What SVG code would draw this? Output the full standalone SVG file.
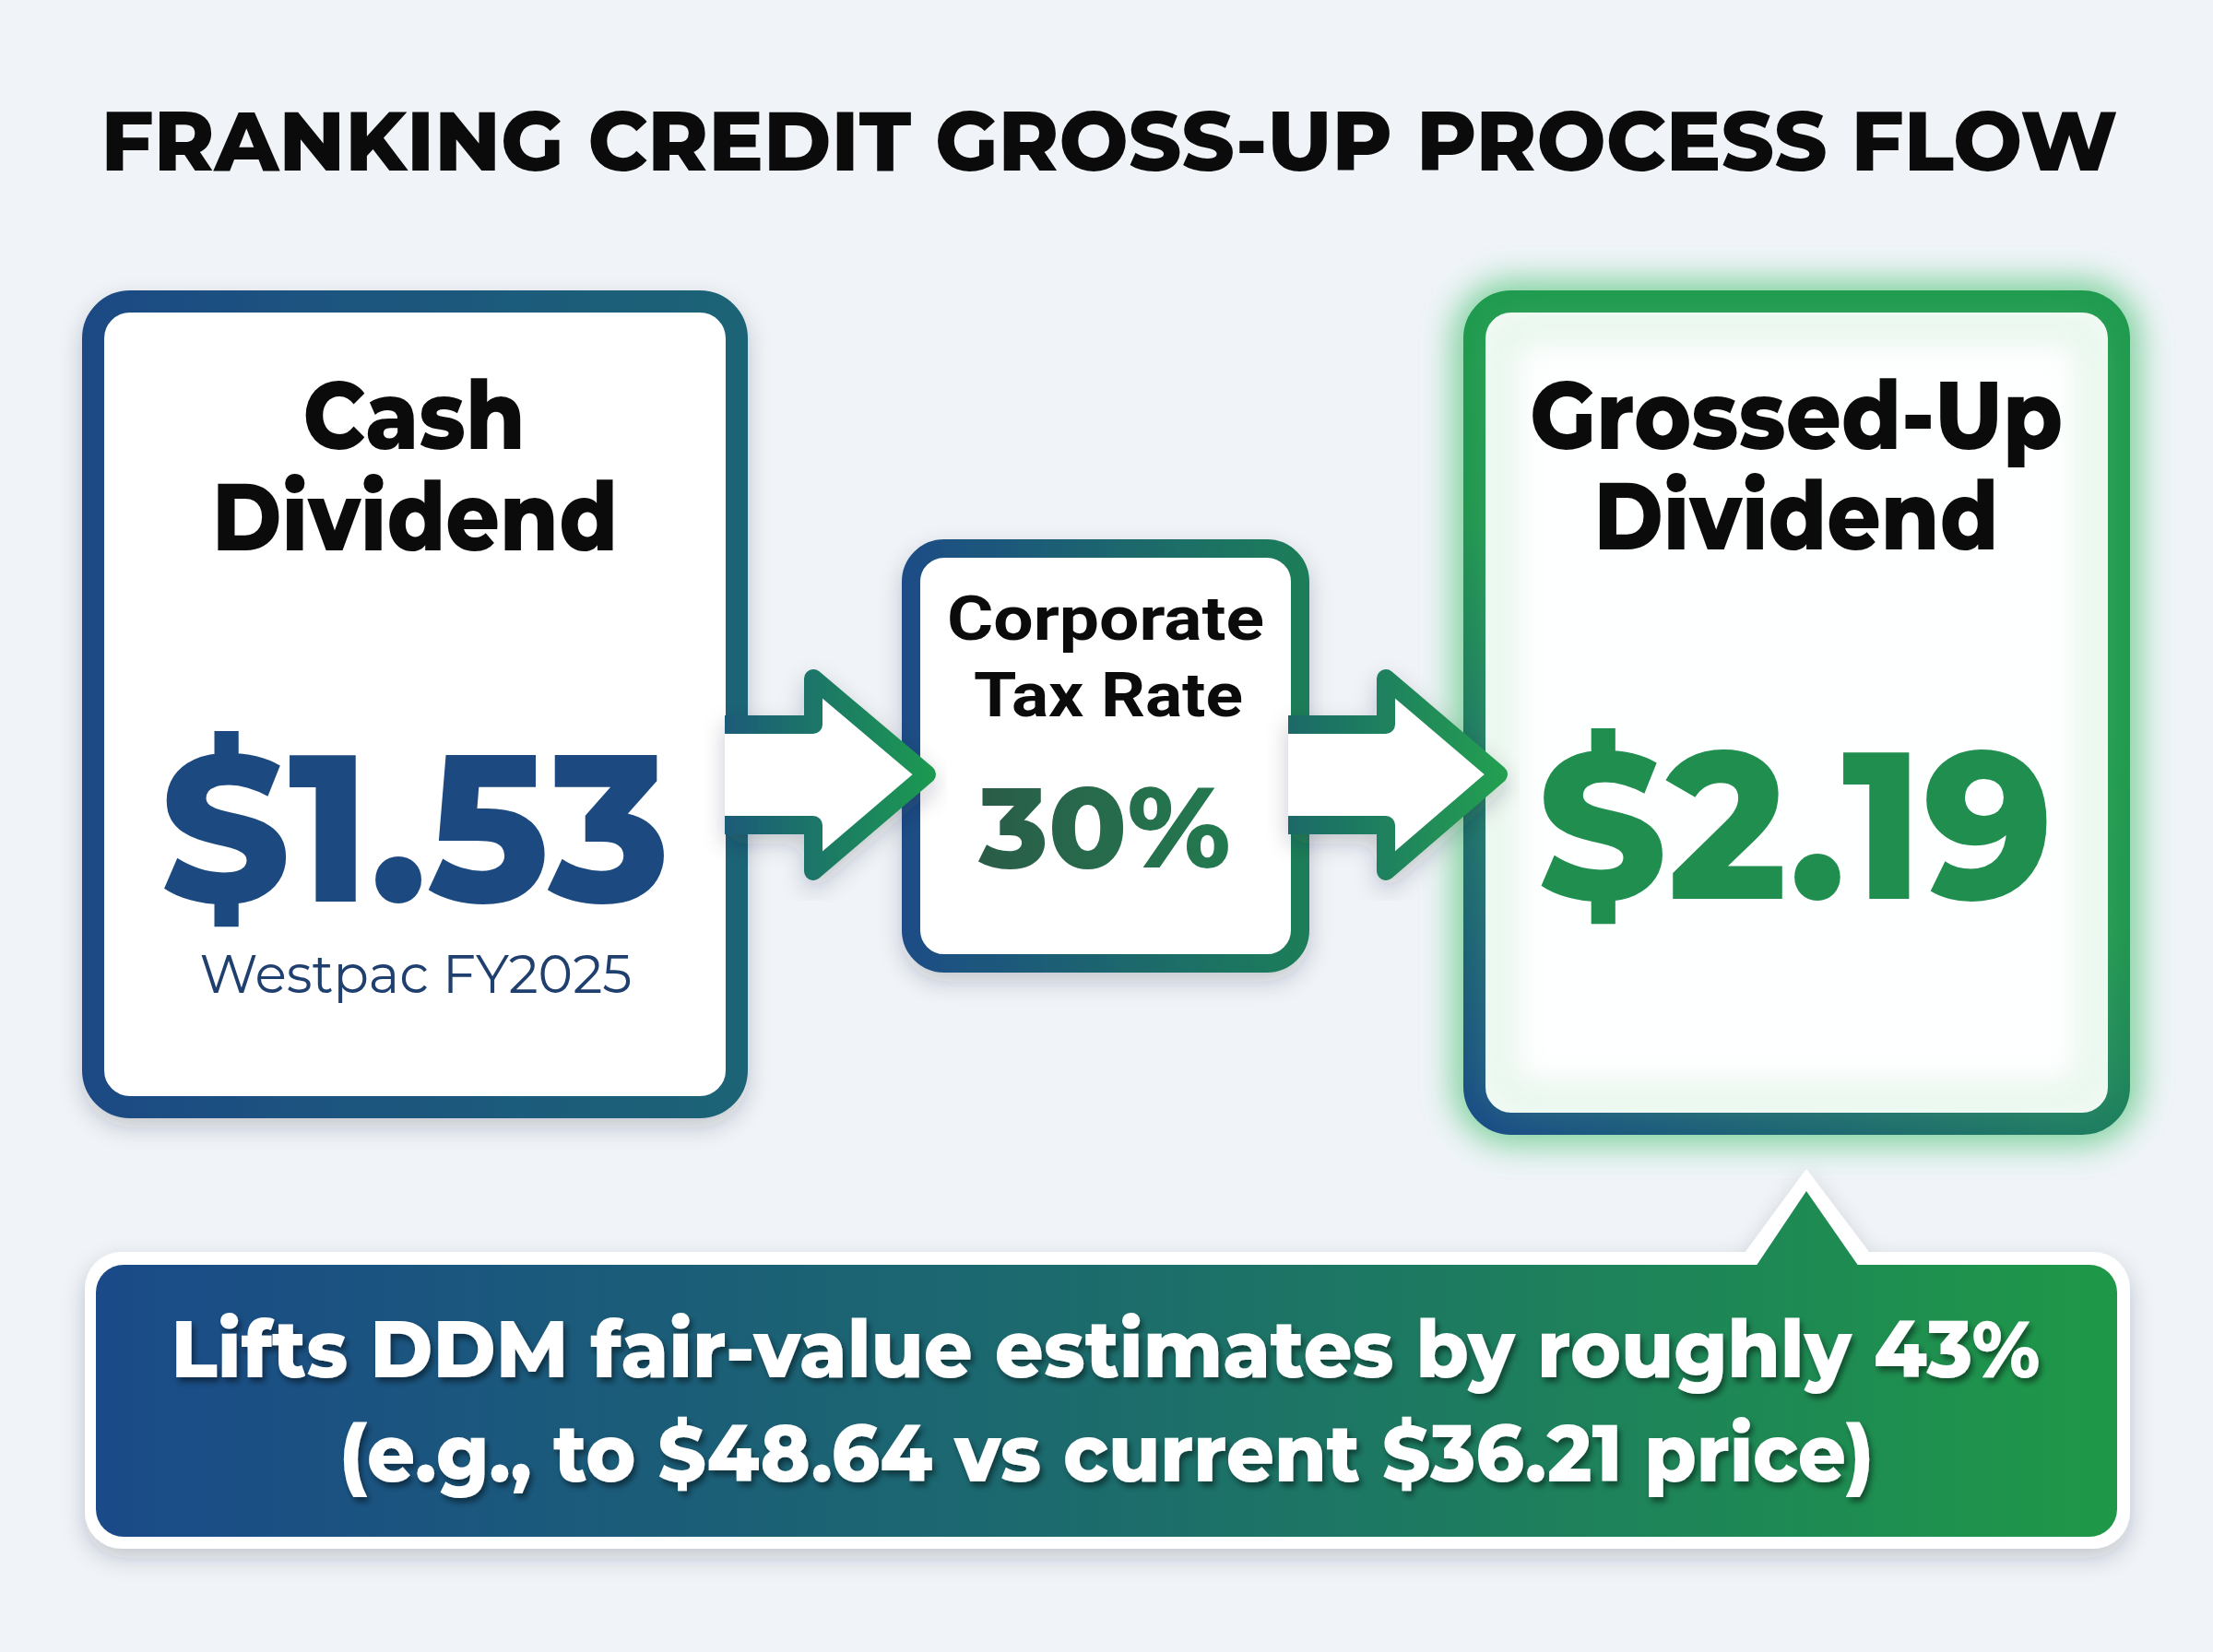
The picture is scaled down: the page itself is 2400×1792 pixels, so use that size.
<svg xmlns="http://www.w3.org/2000/svg" width="2400" height="1792" viewBox="0 0 2400 1792">
<defs>
<style>
.hdr{font-family:Montserrat,Inter,"Noto Sans","Liberation Sans",sans-serif;font-weight:800;fill:#0b0b0b;text-anchor:middle}
.big{font-family:Montserrat,Inter,"Noto Sans","Liberation Sans",sans-serif;font-weight:800;text-anchor:middle}
.sub{font-family:Montserrat,Inter,"Noto Sans","Liberation Sans",sans-serif;font-weight:400;text-anchor:middle}
.cond{font-family:Roboto,"Liberation Sans",sans-serif;font-weight:700;fill:#0b0b0b;text-anchor:middle}
.call{font-family:Montserrat,Inter,"Noto Sans","Liberation Sans",sans-serif;font-weight:800;fill:#ffffff;text-anchor:middle}
</style>
<linearGradient id="gLeft" gradientUnits="userSpaceOnUse" x1="89" y1="0" x2="811" y2="0">
<stop offset="0" stop-color="#1a4a84"/><stop offset="1" stop-color="#1e6476"/>
</linearGradient>
<linearGradient id="gMid" gradientUnits="userSpaceOnUse" x1="978" y1="0" x2="1420" y2="0">
<stop offset="0" stop-color="#1b4c86"/><stop offset="1" stop-color="#1f7e58"/>
</linearGradient>
<linearGradient id="gRight" gradientUnits="userSpaceOnUse" x1="1587" y1="1231" x2="2000" y2="600">
<stop offset="0" stop-color="#1a4c88"/><stop offset="0.4" stop-color="#1e7268"/><stop offset="0.75" stop-color="#20964f"/><stop offset="1" stop-color="#1f9a4e"/>
</linearGradient>
<linearGradient id="gA1" gradientUnits="userSpaceOnUse" x1="790" y1="0" x2="1015" y2="0">
<stop offset="0" stop-color="#1e5c78"/><stop offset="1" stop-color="#1f9a50"/>
</linearGradient>
<linearGradient id="gA2" gradientUnits="userSpaceOnUse" x1="1400" y1="0" x2="1635" y2="0">
<stop offset="0" stop-color="#1e6a68"/><stop offset="1" stop-color="#21a050"/>
</linearGradient>
<linearGradient id="gCall" gradientUnits="userSpaceOnUse" x1="104" y1="0" x2="2296" y2="0">
<stop offset="0" stop-color="#1a4a88"/><stop offset="0.5" stop-color="#1c6c6c"/><stop offset="1" stop-color="#1f9848"/>
</linearGradient>
<linearGradient id="g30" gradientUnits="userSpaceOnUse" x1="1061" y1="0" x2="1334" y2="0">
<stop offset="0" stop-color="#2a5c48"/><stop offset="1" stop-color="#237a50"/>
</linearGradient>
<filter id="shadow" x="-10%" y="-10%" width="120%" height="125%">
<feDropShadow dx="0" dy="10" stdDeviation="12" flood-color="#1a2a3a" flood-opacity="0.22"/>
</filter>
<filter id="glow" x="-20%" y="-20%" width="140%" height="140%">
<feGaussianBlur stdDeviation="18"/>
</filter>
<filter id="tshadow" x="-5%" y="-20%" width="110%" height="150%">
<feDropShadow dx="3" dy="5" stdDeviation="3" flood-color="#000000" flood-opacity="0.45"/>
</filter>
</defs>
<rect x="0" y="0" width="2400" height="1792" fill="#f0f4f8"/>

<g id="title">
<text class="hdr" x="1203" y="185" font-size="91" textLength="2187" lengthAdjust="spacingAndGlyphs">FRANKING CREDIT GROSS-UP PROCESS FLOW</text>
</g>

<g id="node-cash">
<rect x="101" y="327" width="698" height="874" rx="40" fill="#ffffff" stroke="url(#gLeft)" stroke-width="24" filter="url(#shadow)"/>
<text class="hdr" x="449" y="487" font-size="104" textLength="241" lengthAdjust="spacingAndGlyphs">Cash</text>
<text class="hdr" x="450" y="597" font-size="104" textLength="440" lengthAdjust="spacingAndGlyphs">Dividend</text>
<text class="big" x="450" y="978" font-size="226" fill="#1c4a80" textLength="553" lengthAdjust="spacingAndGlyphs">$1.53</text>
<text class="sub" x="451" y="1077" font-size="58" fill="#1f3f6e" textLength="469" lengthAdjust="spacingAndGlyphs">Westpac FY2025</text>
</g>

<g id="node-tax">
<rect x="988" y="595" width="422" height="450" rx="36" fill="#ffffff" stroke="url(#gMid)" stroke-width="20" filter="url(#shadow)"/>
<text class="cond" x="1199" y="694" font-size="66" textLength="344" lengthAdjust="spacingAndGlyphs">Corporate</text>
<text class="cond" x="1202" y="777" font-size="66" textLength="292" lengthAdjust="spacingAndGlyphs">Tax Rate</text>
<text class="big" x="1198" y="941" font-size="124" fill="url(#g30)" textLength="273" lengthAdjust="spacingAndGlyphs">30%</text>
</g>

<g id="node-grossed">
<rect x="1599" y="327" width="699" height="892" rx="40" fill="none" stroke="#45c070" stroke-width="44" opacity="0.7" filter="url(#glow)"/>
<rect x="1599" y="327" width="699" height="892" rx="40" fill="#ffffff" fill-opacity="0.92" stroke="url(#gRight)" stroke-width="24"/>
<rect x="1628" y="356" width="641" height="834" rx="22" fill="none" stroke="#8fd8a4" stroke-width="16" opacity="0.4" filter="url(#glow)"/>
<text class="hdr" x="1948" y="487" font-size="104" textLength="578" lengthAdjust="spacingAndGlyphs">Grossed-Up</text>
<text class="hdr" x="1948" y="596" font-size="104" textLength="439" lengthAdjust="spacingAndGlyphs">Dividend</text>
<text class="big" x="1947" y="975" font-size="226" fill="#1f8e4f" textLength="560" lengthAdjust="spacingAndGlyphs">$2.19</text>
</g>

<g id="connectors" fill="#ffffff" stroke-width="20" stroke-linejoin="round">
<path d="M 786 786 L 882 786 L 882 736 L 1005 840 L 882 945 L 882 895 L 786 895" stroke="url(#gA1)" filter="url(#shadow)"/>
<path d="M 1397 786 L 1503 786 L 1503 736 L 1625 840 L 1503 945 L 1503 895 L 1397 895" stroke="url(#gA2)" filter="url(#shadow)"/>
</g>

<g id="callout">
<g filter="url(#shadow)">
<rect x="92" y="1358" width="2218" height="322" rx="40" fill="#ffffff"/>
<polygon points="1890,1362 1959,1268 2030,1362" fill="#ffffff"/>
</g>
<rect x="104" y="1372" width="2192" height="295" rx="30" fill="url(#gCall)"/>
<polygon points="1904,1374 1959,1292 2016,1374" fill="url(#gCall)"/>
<g filter="url(#tshadow)">
<text class="call" x="1199" y="1494" font-size="86" textLength="2027" lengthAdjust="spacingAndGlyphs">Lifts DDM fair-value estimates by roughly 43%</text>
<text class="call" x="1200" y="1607" font-size="86" textLength="1664" lengthAdjust="spacingAndGlyphs">(e.g., to $48.64 vs current $36.21 price)</text>
</g>
</g>
</svg>
